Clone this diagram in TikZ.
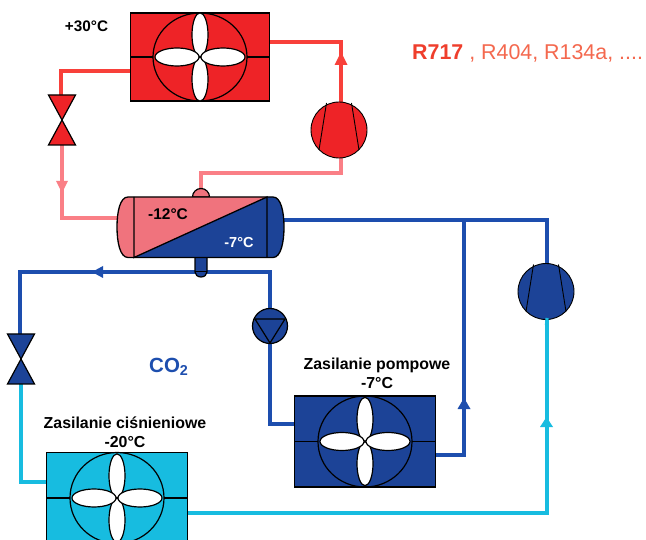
\documentclass[tikz,border=0pt]{standalone}
\usepackage{fontspec}
\setmainfont{Liberation Sans}
\usetikzlibrary{arrows.meta}
\definecolor{cred}{HTML}{EE2327}
\definecolor{cpink}{HTML}{F0737D}
\definecolor{cblue}{HTML}{1C4397}
\definecolor{ccyan}{HTML}{17BCE0}
\definecolor{lred}{HTML}{F8403A}
\definecolor{lpink}{HTML}{FA7F86}
\definecolor{lblue}{HTML}{1D4EAE}
\definecolor{ltxt}{HTML}{F4684E}
\definecolor{ltxtb}{HTML}{EF3E2C}
\tikzset{
  x=1pt,y=-1pt,
  pipe/.style={line width=3.2pt,line join=miter},
  sym/.style={draw=black,line width=1.2pt},
  lbl/.style={font=\bfseries\fontsize{15.9}{18.8}\selectfont,align=center,inner sep=0pt,text=black},
  port/.style={inner sep=0pt,minimum size=0pt},
}
% #1 centre x, #2 centre y, #3 half width, #4 half height, #5 fill, #6 name
\newcommand{\fancooler}[6]{%
  \filldraw[sym,fill=#5] (#1-#3,#2-#4) rectangle (#1+#3,#2+#4);
  \draw[sym] (#1-#3,#2) -- (#1-47,#2) (#1+47,#2) -- (#1+#3,#2);
  \draw[sym] (#1,#2) ellipse [x radius=47,y radius=#4];
  \filldraw[sym,fill=white] (#1,#2-22.2) ellipse [x radius=8,y radius=22];
  \filldraw[sym,fill=white] (#1,#2+22.2) ellipse [x radius=8,y radius=22];
  \filldraw[sym,fill=white] (#1-23,#2) ellipse [x radius=22,y radius=9];
  \filldraw[sym,fill=white] (#1+23,#2) ellipse [x radius=22,y radius=9];
}
% #1 x, #2 y, #3 fill
\newcommand{\expvalve}[3]{%
  \filldraw[sym,fill=#3,line join=miter] (#1-13.5,#2-25) -- (#1+13.5,#2-25) -- (#1-13.5,#2+25) -- (#1+13.5,#2+25) -- cycle;
}
\newcommand{\compr}[3]{%
  \filldraw[sym,fill=#3,line width=.9pt] (#1,#2) circle [radius=28];
  \draw[black,line width=.9pt] (#1-12.5,#2-27) -- (#1-20,#2+20) (#1+12.5,#2-27) -- (#1+20,#2+20);
}
\begin{document}
\begin{tikzpicture}
\useasboundingbox (0,0) rectangle (646,540);
\clip (0,0) rectangle (646,540);
\fill[white] (0,0) rectangle (646,540);

% named points
\coordinate (c1) at (341,42);
\coordinate (c2) at (61,71);
\coordinate (c3) at (62,218);
\coordinate (c4) at (341,173);
\coordinate (c5) at (201,173);
\coordinate (c6) at (547,220);
\coordinate (c7) at (464,220);
\coordinate (c8) at (464,455);
\coordinate (c9) at (20,272);
\coordinate (c10) at (270,272);
\coordinate (c11) at (270,424);
\coordinate (c12) at (21,482);
\coordinate (c13) at (547,513);
\node[port] (condRw) at (131,71) {};
\node[port] (condRe) at (270,42) {};
\node[port] (valveRt) at (61,95) {};
\node[port] (valveRb) at (62,145) {};
\node[port] (compRt) at (341,102) {};
\node[port] (compRb) at (341,158) {};
\node[port] (tankW) at (118,218) {};
\node[port] (tankE) at (284,220) {};
\node[port] (tankN) at (201,192) {};
\node[port] (compBt) at (547,264) {};
\node[port] (compBb) at (547,318) {};
\node[port] (pumpt) at (270,309) {};
\node[port] (pumpb) at (270,343) {};
\node[port] (valveBt) at (20,334) {};
\node[port] (valveBb) at (21,384) {};
\node[port] (condBw) at (295,424) {};
\node[port] (condBe) at (436,455) {};
\node[port] (condCw) at (46,482) {};
\node[port] (condCe) at (187,513) {};

% pipes
\draw[pipe,lred] (condRe.center) -- (c1) -- (compRt.center);
\draw[pipe,lred] (condRw.center) -- (c2) -- (valveRt.center);
\draw[pipe,lpink] (valveRb.center) -- (c3) -- (tankW.center);
\draw[pipe,lpink] (compRb.center) -- (c4) -- (c5) -- (tankN.center);
\draw[pipe,lblue] (tankE.center) -- (c6) -- (compBt.center);
\draw[pipe,lblue] (c7) -- (c8) -- (condBe.center);
\draw[pipe,lblue] (valveBt.center) -- (c9) -- (c10) -- (pumpt.center);
\draw[pipe,lblue] (pumpb.center) -- (c11) -- (condBw.center);
\draw[pipe,ccyan] (valveBb.center) -- (c12) -- (condCw.center);
\draw[pipe,ccyan] (condCe.center) -- (c13) -- (compBb.center);

% flow arrowheads
\fill[lred] (341,52) -- (347.5,65) -- (334.5,65) -- cycle;
\fill[lpink] (62,193) -- (56,181) -- (68,181) -- cycle;
\fill[lblue] (92,272) -- (103,266) -- (103,278) -- cycle;
\fill[lblue] (464,398) -- (470.5,409) -- (457.5,409) -- cycle;
\fill[ccyan] (546.5,417) -- (553,427) -- (540,427) -- cycle;

% tank stubs
\filldraw[sym,fill=cpink] (192.5,197) arc[start angle=180,end angle=360,radius=8.5] -- cycle;
\filldraw[sym,fill=cblue] (195,256) -- (195,272) arc[start angle=180,end angle=0,x radius=6,y radius=5] -- (207,256) -- cycle;
\draw[black,line width=.9pt] (195,271) -- (207,271);

% tank body
\fill[cpink] (134,197) -- (267,197) -- (134,257.5) -- cycle;
\fill[cblue] (134,257.5) -- (267,197) -- (267,257.5) -- cycle;
\fill[cpink] (134,197) -- (128,197) .. controls (120,197) and (117,212) .. (117,227) .. controls (117,242) and (120,257.5) .. (128,257.5) -- (134,257.5) -- cycle;
\fill[cblue] (267,197) -- (273,197) .. controls (281,197) and (284,212) .. (284,227) .. controls (284,242) and (281,257.5) .. (273,257.5) -- (267,257.5) -- cycle;
\draw[black,line width=1.3pt] (128,197) -- (273,197) .. controls (281,197) and (284,212) .. (284,227) .. controls (284,242) and (281,257.5) .. (273,257.5) -- (128,257.5) .. controls (120,257.5) and (117,242) .. (117,227) .. controls (117,212) and (120,197) .. (128,197) -- cycle;
\draw[black,line width=1.3pt] (134,197) -- (134,257.5) -- (267,197) -- (267,257.5);

% devices
\fancooler{200}{57}{69.5}{44}{cred}{condR}
\fancooler{365}{441.5}{70.5}{45.5}{cblue}{condB}
\fancooler{117}{498}{70.5}{45.5}{ccyan}{condC}
\expvalve{62}{120}{cred}
\expvalve{21}{359}{cblue}
\compr{339}{130}{cred}
\compr{546}{291.5}{cblue}
\filldraw[sym,fill=cblue] (270,326) circle [radius=17.5];
\draw[black,line width=1.2pt,line join=miter] (255,319) -- (285,319) -- (270,343) -- cycle;
\draw[pipe,ccyan] (compBb.center) -- (546.5,325);

% labels
\node[lbl,font=\bfseries\fontsize{15.3}{18}\selectfont] (t30) at (86.5,26.5) {+30°C};
\node[lbl,font=\bfseries\fontsize{15.5}{18}\selectfont] (t12) at (168,214) {-12°C};
\node[lbl,text=white,font=\bfseries\fontsize{14.5}{18}\selectfont] (t7) at (239,242.5) {-7°C};
\node[inner sep=0pt,anchor=west,font=\fontsize{21.4}{25}\selectfont,text=ltxt] (tr) at (412,53) {\textcolor{ltxtb}{\textbf{R717}} , R404, R134a, ....};
\node[inner sep=0pt,anchor=west,font=\bfseries\fontsize{20.5}{24}\selectfont,text=lblue] (tco) at (149,367) {CO\textsubscript{2}};
\node[lbl] (tpomp) at (377,373) {Zasilanie pompowe\\-7°C};
\node[lbl] (tcis) at (125,432) {Zasilanie ciśnieniowe\\-20°C};
\end{tikzpicture}
\end{document}
